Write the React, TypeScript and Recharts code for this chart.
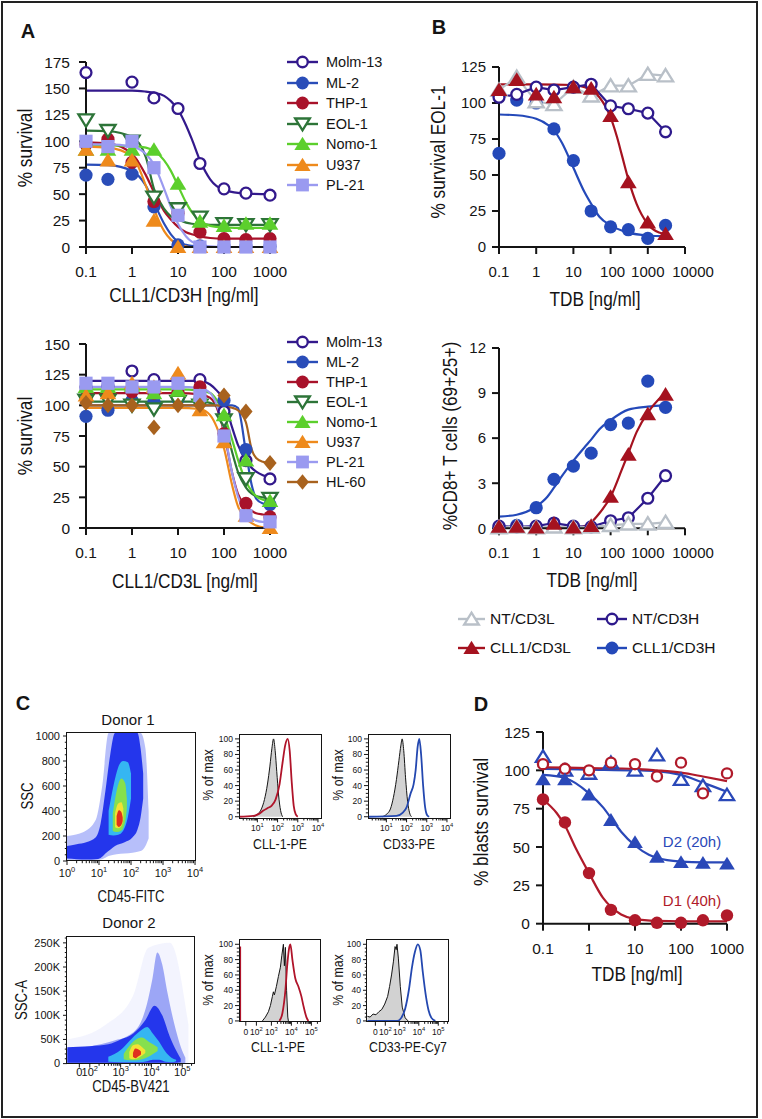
import React from 'react';
import { LineChart, ComposedChart, Line, Area, XAxis, YAxis } from 'recharts';

const SANS = "'Liberation Sans', Arial, Helvetica, sans-serif";
const INK = '#141414';

// ---------------- A (top): survival vs CLL1/CD3H ----------------
const doseA = [0.1, 0.3, 1, 3, 10, 30, 100, 300, 1000];
const molm13H = [165, null, 156, 141, 131, 79, 55, 51, 49];
const ml2H = [68, 64, 69, 38, 2, 1, 0.5, 0.5, 0.5];
const thp1H = [97, 102, 80, 43, 32, 14, 8, 7, 8];
const eol1H = [120, 110, 100, 47, 36, 28, 22, 21, 21];
const nomo1H = [92, 92, 92, 92, 60, 24, 20, 22, 22];
const u937H = [92, 82, 82, 25, 0, 0, 0, 0, 0];
const pl21H = [100, 95, 100, 75, 30, 0, 0, 0, 0];

const fitDoseH = [0.1, 0.3, 1, 2, 3, 5, 7, 10, 15, 20, 30, 50, 100, 300, 1000];
const molm13HFit = [148, 148, 148, 147, 146, 143, 138, 130, 115, 102, 82, 64, 54, 50.5, 50];
const ml2HFit = [78, 77.5, 72, 58, 42, 22, 12, 5, 2, 1, 0.3, 0, 0, 0, 0];
const thp1HFit = [99, 98, 88, 68, 52, 34, 26, 19, 14, 12, 10, 8.5, 8, 8, 8];
const eol1HFit = [110, 109.5, 104, 85, 55, 36, 29, 26, 23, 22, 21.5, 21, 21, 21, 21];
const nomo1HFit = [96, 96, 95.5, 94, 91, 82, 72, 58, 42, 33, 25, 20, 18.5, 18, 18];
const u937HFit = [95, 94, 86, 58, 36, 15, 7, 2.5, 0.5, 0, 0, 0, 0, 0, 0];
const pl21HFit = [97, 97, 95, 88, 78, 55, 38, 22, 10, 5, 2, 0.5, 0, 0, 0];

// ---------------- A (bottom): survival vs CLL1/CD3L ----------------
const molm13L = [115, 116, 128, 121, 121, 121, 95, 55, 40];
const ml2L = [91, 96, 104, 103, 105, 105, 104, 64, 19];
const thp1L = [106, 108, 111, 110, 111, 115, 77, 20, 9];
const eol1L = [104, 104, 100, 97, 103, 100, 88, 40, 24];
const nomo1L = [115, 115, 116, 110, 112, 108, 92, 55, 22];
const u937L = [108, 110, 118, 115, 126, 96, 70, 10, 0];
const pl21L = [118, 118, 115, 115, 118, 108, 75, 10, 5];
const hl60L = [102, 100, 100, 82, 100, 100, 108, 95, 53];

const fitDoseL = [0.1, 1, 10, 30, 50, 70, 100, 150, 200, 300, 400, 500, 700, 1000];
const molm13LFit = [120, 120, 120, 120, 117, 112, 104, 82, 68, 55, 49, 46, 43, 41];
const ml2LFit = [100, 100, 100, 100, 100, 100, 100, 100, 98, 62, 35, 24, 20, 19];
const thp1LFit = [110, 110, 110, 109, 106, 98, 78, 45, 28, 17, 14, 12, 11, 10];
const eol1LFit = [103, 103, 103, 103, 102, 99, 88, 62, 46, 33, 28, 26, 25, 24];
const nomo1LFit = [113, 113, 113, 112, 110, 104, 92, 72, 56, 38, 30, 26, 23, 22];
const u937LFit = [98, 98, 98, 97, 92, 82, 65, 35, 18, 8, 4, 2, 0.5, 0];
const pl21LFit = [115, 115, 115, 114, 110, 100, 80, 45, 26, 12, 8, 6, 5, 5];
const hl60LFit = [100, 100, 100, 100, 100, 100, 99, 98, 96, 86, 64, 57, 54, 53];

// ---------------- B: EOL-1 survival and CD8 activation ----------------
const doseB = [0.1, 0.3, 1, 3, 10, 30, 100, 300, 1000, 3000];
const ntLSurv = [109, 118, 101, 99, 111, 105, 112, 112, 120, 119];
const ntHSurv = [104, 106, 111, 109, 111, 113, 98, 96, 93, 80];
const cllLSurv = [109, 116, 106, 104, 111, 110, 91, 45, 17, 9];
const cllHSurv = [65, 102, 100, 82, 60, 25, 14, 12, 6, 15];
const fitDoseBH = [0.1, 0.3, 1, 2, 3, 5, 10, 20, 30, 50, 100, 300, 1000, 3000];
const cllHSurvFit = [92, 91.5, 89, 85, 81, 72, 55, 38, 30, 21, 15, 10, 8, 7.5];
const fitDoseBL = [0.1, 1, 10, 20, 30, 50, 100, 150, 200, 300, 500, 1000, 2000, 3000];
const cllLSurvFit = [113, 113, 112.5, 111, 109, 104, 90, 76, 64, 47, 30, 16, 10, 9];

const ntLAct = [0.05, 0.1, 0.05, 0.1, 0.05, 0.1, 0.2, 0.3, 0.3, 0.4];
const ntHAct = [0.15, 0.1, 0.15, 0.35, 0.15, 0.1, 0.5, 0.7, 2.0, 3.5];
const cllLAct = [0.1, 0.1, 0.05, 0.3, 0.05, 0.15, 2.1, 4.9, 7.6, 8.9];
const cllHAct = [0.1, 0.2, 1.37, 3.26, 4.14, 5.0, 6.9, 7.0, 9.8, 8.05];
const cllHActFit = [0.78, 0.9, 1.45, 2.1, 2.7, 3.5, 4.5, 5.4, 5.9, 6.6, 7.2, 7.9, 8.1, 8.2];
const fitDoseBLAct = [10, 20, 30, 50, 100, 200, 300, 500, 1000, 2000, 3000];
const cllLActFit = [0.0, 0.15, 0.4, 1.0, 2.1, 3.9, 5.0, 6.4, 7.7, 8.6, 9.0];

// ---------------- D: primary blasts ----------------
const doseD = [0.1, 0.3, 1, 3, 10, 30, 100, 300, 1000];
const d2Tdb = [94, 94, 84, 67.5, 53, 43.5, 40, 39.5, 39];
const d2Ctrl = [109, 100, 98, 105, 100, 110, 94, 90, 84];
const d1Tdb = [81, 66, 33, 9, 2.2, 0.6, 0.6, 2.2, 5.4];
const d1Ctrl = [104, 101, 100, 105, 104, 96, 105, 85, 98];
const fitDoseD2 = [0.1, 0.3, 1, 2, 3, 5, 10, 20, 30, 50, 100, 300, 1000];
const d2TdbFit = [97, 95, 85, 76, 69, 60, 51, 45, 43, 41.5, 40.5, 40, 40];
const fitDoseD1 = [0.1, 0.2, 0.3, 0.5, 1, 2, 3, 5, 10, 30, 100, 300, 1000];
const d1TdbFit = [81, 72, 64, 50, 33, 17, 11, 6, 3, 1.8, 1.5, 1.5, 1.5];
const fitDoseCtrl = [0.1, 1, 10, 30, 100, 300, 1000];
const d2CtrlFit = [101, 100.5, 100, 99.5, 97, 92, 86];
const d1CtrlFit = [102, 101.5, 101, 100, 98.5, 96, 93];

// ---------------- C: flow cytometry (x in log decades) ----------------
// density envelopes [x, low, high]
const d1Halo = [[0.0, 10, 200], [0.5, 5, 230], [0.9, 10, 330], [1.1, 15, 600], [1.3, 40, 1024], [2.3, 80, 1024], [2.45, 120, 900], [2.55, 180, 400]];
const d1Blue = [[0.0, 20, 120], [0.3, 15, 135], [0.6, 12, 150], [0.9, 15, 190], [1.05, 25, 300], [1.2, 60, 560], [1.35, 90, 850], [1.5, 120, 1024], [1.8, 150, 1024], [2.05, 190, 1024], [2.2, 250, 1024], [2.3, 350, 900], [2.38, 500, 700]];
const d1Cyan = [[1.3, 210, 400], [1.45, 205, 600], [1.6, 210, 750], [1.75, 240, 800], [1.9, 350, 790], [2.0, 500, 700]];
const d1Green = [[1.43, 240, 380], [1.55, 232, 560], [1.7, 245, 660], [1.82, 320, 620], [1.87, 420, 500]];
const d1Yellow = [[1.5, 270, 380], [1.6, 262, 460], [1.7, 280, 470], [1.76, 330, 420]];
const d1Red = [[1.55, 290, 360], [1.62, 273, 406], [1.7, 290, 390], [1.74, 320, 350]];

const d2Speckle = [[1.27, 0, 50000], [2.5, 0, 80000], [3.4, 0, 140000], [3.9, 0, 240000], [4.6, 0, 250000], [5.2, 0, 80000]];
const d2Plume = [[1.27, 0, 30000], [1.8, 0, 34000], [2.35, 0, 40000], [2.8, 0, 48000], [3.2, 0, 56000], [3.65, 0, 85000], [3.86, 0, 125000], [4.03, 0, 175000], [4.19, 0, 230000], [4.35, 0, 205000], [4.51, 0, 150000], [4.73, 0, 85000], [4.95, 0, 35000], [5.1, 2000, 12000]];
const d2Blue = [[1.27, 2000, 34000], [2.0, 2000, 36000], [2.6, 2000, 40000], [3.0, 2000, 50000], [3.4, 2000, 62000], [3.8, 2000, 90000], [4.1, 2000, 120000], [4.35, 2000, 100000], [4.6, 2000, 55000], [4.82, 2000, 25000], [4.95, 3000, 10000]];
const d2Cyan = [[2.6, 4000, 14000], [3.0, 3000, 28000], [3.3, 3000, 48000], [3.6, 3000, 66000], [3.86, 5000, 76000], [4.05, 8000, 62000], [4.25, 8000, 45000], [4.45, 4000, 25000], [4.65, 3000, 12000], [4.8, 5000, 8000]];
const d2Green = [[3.1, 9000, 20000], [3.3, 7000, 38000], [3.5, 7000, 50000], [3.7, 9000, 54000], [3.9, 14000, 46000], [4.05, 20000, 40000], [4.2, 26000, 34000]];
const d2Yellow = [[3.28, 11000, 24000], [3.4, 9000, 38000], [3.55, 11000, 40000], [3.7, 17000, 34000], [3.8, 22000, 28000]];
const d2Red = [[3.4, 14000, 22000], [3.48, 11000, 31000], [3.58, 15000, 29000], [3.66, 19000, 25000]];

// histograms [x, % of max]
const d1IsoCll = [[0.8, 0], [1.0, 3], [1.2, 10], [1.35, 22], [1.5, 42], [1.62, 65], [1.72, 88], [1.8, 100], [1.88, 85], [1.96, 58], [2.05, 28], [2.15, 8], [2.25, 0]];
const d1Cll1 = [[0.1, 0], [0.8, 1], [1.1, 4], [1.3, 8], [1.5, 11], [1.7, 14], [1.9, 22], [2.1, 42], [2.25, 70], [2.38, 92], [2.5, 100], [2.6, 85], [2.7, 45], [2.8, 14], [2.9, 3], [3.0, 0]];
const d1IsoCd33 = [[0.8, 0], [1.0, 3], [1.2, 10], [1.35, 25], [1.5, 48], [1.62, 72], [1.72, 92], [1.78, 100], [1.86, 85], [1.95, 50], [2.05, 20], [2.15, 5], [2.25, 0]];
const d1Cd33 = [[0.1, 0], [1.5, 1], [1.8, 5], [2.0, 12], [2.2, 30], [2.35, 42], [2.45, 60], [2.55, 90], [2.63, 100], [2.72, 80], [2.82, 40], [2.92, 12], [3.02, 2], [3.12, 0]];
const d2IsoCll = [[2.55, 0], [2.7, 5], [2.85, 12], [2.95, 20], [3.05, 32], [3.1, 38], [3.15, 34], [3.25, 45], [3.35, 58], [3.45, 70], [3.52, 85], [3.6, 100], [3.65, 72], [3.7, 96], [3.76, 40], [3.82, 5], [3.85, 0]];
const d2Cll1 = [[3.4, 0], [3.55, 10], [3.7, 40], [3.8, 75], [3.9, 97], [3.95, 100], [4.05, 80], [4.2, 55], [4.35, 45], [4.5, 32], [4.6, 20], [4.75, 5], [4.85, 0]];
const d2Cll1Edge = [[1.44, 0], [1.44, 97]];
const d2IsoCd33 = [[1.36, 6], [1.5, 5], [1.65, 9], [1.8, 8], [1.95, 12], [2.1, 15], [2.25, 22], [2.4, 32], [2.5, 45], [2.6, 60], [2.7, 78], [2.78, 97], [2.84, 93], [2.88, 100], [2.95, 82], [3.05, 45], [3.15, 18], [3.3, 4], [3.45, 0]];
const d2Cd33 = [[1.36, 0], [2.9, 0], [3.1, 4], [3.3, 16], [3.5, 42], [3.65, 70], [3.8, 90], [3.95, 100], [4.08, 92], [4.2, 65], [4.35, 35], [4.5, 14], [4.65, 4], [4.85, 0]];

// ---------------- styles ----------------
const cellStyle: Record<string, { color: string; shape: string }> = {
  'Molm-13': { color: '#33198c', shape: 'circleOpen' },
  'ML-2': { color: '#2a4db8', shape: 'circle' },
  'THP-1': { color: '#a8122a', shape: 'circle' },
  'EOL-1': { color: '#2d7438', shape: 'triDown' },
  'Nomo-1': { color: '#5ccf2c', shape: 'triUp' },
  U937: { color: '#ee8a1c', shape: 'triUp' },
  'PL-21': { color: '#9a9af0', shape: 'square' },
  'HL-60': { color: '#a8621e', shape: 'diamond' },
};
const tdbStyle: Record<string, { color: string; shape: string }> = {
  'NT/CD3L': { color: '#b9c0c8', shape: 'triUpOpen' },
  'NT/CD3H': { color: '#2e1a8c', shape: 'circleOpen' },
  'CLL1/CD3L': { color: '#a5121f', shape: 'triUp' },
  'CLL1/CD3H': { color: '#2449b9', shape: 'circle' },
};
const D_BLUE = '#2a48b8';
const D_RED = '#b01a2a';
const HEAT = ['#2436ec', '#35b6f2', '#86e04e', '#f2e234', '#e0301e'];

const toPts = (xs: number[], ys: (number | null)[]) =>
  xs.map((x, i) => ({ x, y: ys[i] })).filter((p) => p.y != null);
const pairs = (arr: number[][]) => arr.map(([x, y]) => ({ x, y }));
const ranges = (arr: number[][]) => arr.map(([x, lo, hi]) => ({ x, r: [lo, hi] }));

const LOG_STEPS = [2, 3, 4, 5, 6, 7, 8, 9].map((k) => Math.log10(k));
const minorDecades = (from: number, to: number, lo: number, hi: number) => {
  const out: number[] = [];
  for (let d = from; d < to; d++) LOG_STEPS.forEach((s) => out.push(d + s));
  return out.filter((v) => v > lo && v < hi);
};
const linTicks = (step: number, max: number) => {
  const out: number[] = [];
  for (let v = 0; v <= max; v += step) out.push(v);
  return out;
};

// ---------------- markers ----------------
function Marker({ shape, color, cx, cy, r = 6.6 }: any) {
  if (cx == null || cy == null) return null;
  const sw = 2.3;
  const h = r * 1.15;
  switch (shape) {
    case 'circle':
      return <circle cx={cx} cy={cy} r={r} fill={color} />;
    case 'circleOpen':
      return <circle cx={cx} cy={cy} r={r - sw / 2} fill="#fff" stroke={color} strokeWidth={sw} />;
    case 'square':
      return <rect x={cx - r} y={cy - r} width={2 * r} height={2 * r} fill={color} />;
    case 'diamond':
      return <polygon points={`${cx},${cy - r * 1.2} ${cx + r},${cy} ${cx},${cy + r * 1.2} ${cx - r},${cy}`} fill={color} />;
    case 'triUp':
      return <polygon points={`${cx},${cy - h} ${cx + h * 1.1},${cy + h * 0.8} ${cx - h * 1.1},${cy + h * 0.8}`} fill={color} />;
    case 'triUpOpen':
      return <polygon points={`${cx},${cy - h + 1} ${cx + h},${cy + h * 0.75} ${cx - h},${cy + h * 0.75}`} fill="#fff" stroke={color} strokeWidth={sw} />;
    case 'triDown':
      return <polygon points={`${cx - h},${cy - h * 0.75} ${cx + h},${cy - h * 0.75} ${cx},${cy + h - 1}`} fill="#fff" stroke={color} strokeWidth={sw} />;
    default:
      return null;
  }
}

// condensed look: Arial squeezed horizontally
function Label({ x, y, children, size = 21, rotate = false, squeeze = 0.82, weight = 400, color = INK }: any) {
  return (
    <div
      style={{
        position: 'absolute', left: x, top: y, whiteSpace: 'nowrap', lineHeight: 1,
        transform: `translate(-50%, -50%)${rotate ? ' rotate(-90deg)' : ''} scaleX(${squeeze})`,
        fontSize: size, fontFamily: SANS, fontWeight: weight, color,
      }}
    >
      {children}
    </div>
  );
}

function LegendItem({ x, y, name, color, shape, w = 31, gap = 8, size = 14.5 }: any) {
  return (
    <div style={{ position: 'absolute', left: x, top: y - 10, height: 20, display: 'flex', alignItems: 'center', whiteSpace: 'nowrap' }}>
      <svg width={w} height={20} style={{ overflow: 'visible' }}>
        <line x1={0} y1={10} x2={w} y2={10} stroke={color} strokeWidth={2.4} />
        <Marker shape={shape} color={color} cx={w / 2} cy={10} r={6.4} />
      </svg>
      <span style={{ marginLeft: gap, fontSize: size, fontFamily: SANS, color: INK }}>{name}</span>
    </div>
  );
}

// ---------------- dose-response chart ----------------
const labelNudge: Record<number, number> = { 100: 2, 10000: 8 };

function DoseChart({ box, xMax, xTicks, yMax, yTicks, yTickMargin = 9, fontSize = 15.5, fits, points, r = 6.6, nudge = false }: any) {
  const ML = 64, MT = 16, MR = 30, MB = 44;
  const axis = { stroke: INK, strokeWidth: 2 };
  const tick = { fill: INK, fontSize, fontFamily: SANS };
  const xTick = (p: any) => {
    const v = p.payload?.value;
    const dx = nudge ? labelNudge[v] ?? 0 : 0;
    return (
      <text key={`x-${v}`} x={p.x + dx} y={p.y} dy="0.71em" textAnchor="middle" fontSize={fontSize} fontFamily={SANS} fill={INK}>
        {String(v)}
      </text>
    );
  };
  return (
    <div style={{ position: 'absolute', left: box.x - ML, top: box.y - MT }}>
      <LineChart width={box.w + ML + MR} height={box.h + MT + MB} margin={{ top: MT, right: MR, bottom: 0, left: 0 }}>
        <XAxis type="number" dataKey="x" scale="log" domain={[0.1, xMax]} ticks={xTicks} interval={0}
          height={MB} tickSize={7} tickMargin={12} axisLine={axis} tickLine={axis} tick={xTick} />
        <YAxis type="number" domain={[0, yMax]} ticks={yTicks} interval={0} width={ML}
          tickSize={7} tickMargin={yTickMargin} axisLine={axis} tickLine={axis} tick={tick} />
        {fits.map((f: any) => (
          <Line key={`fit-${f.key}`} data={f.data} dataKey="y" type="monotone" stroke={f.color}
            strokeWidth={2.2} dot={false} activeDot={false} isAnimationActive={false} />
        ))}
        {points.map((s: any) => (
          <Line key={`pts-${s.key}`} data={s.data} dataKey="y" type="linear"
            stroke={s.connect ? s.color : 'none'} strokeWidth={2.2} activeDot={false} isAnimationActive={false}
            dot={(p: any) => <Marker key={`${s.key}-${p.index}`} shape={s.shape} color={s.color} cx={p.cx} cy={p.cy} r={r} />} />
        ))}
      </LineChart>
    </div>
  );
}

// ---------------- flow cytometry plots ----------------
function makeXTick(majors: any[], fs: number, dy: number) {
  return (p: any) => {
    const v = p.payload?.value;
    const m = majors.find((t) => Math.abs(t.v - v) < 1e-6);
    return (
      <g key={`xt-${v}`}>
        <line x1={p.x} x2={p.x} y1={p.y} y2={p.y + (m ? 4 : 2.2)} stroke={INK} strokeWidth={1} />
        {m && (
          <text x={p.x} y={p.y + dy} textAnchor="middle" fontSize={fs} fontFamily={SANS} fill={INK}>
            {m.base}
            {m.sup && <tspan dy={-fs * 0.45} fontSize={fs * 0.68}>{m.sup}</tspan>}
          </text>
        )}
      </g>
    );
  };
}
function makeYTick(majors: any[], fs: number, gap: number) {
  return (p: any) => {
    const v = p.payload?.value;
    const m = majors.find((t) => Math.abs(t.v - v) < 1e-6);
    return (
      <g key={`yt-${v}`}>
        <line x1={p.x - (m ? 4 : 2.2)} x2={p.x} y1={p.y} y2={p.y} stroke={INK} strokeWidth={1} />
        {m && (
          <text x={p.x - gap} y={p.y} dy="0.35em" textAnchor="end" fontSize={fs} fontFamily={SANS} fill={INK}>{m.label}</text>
        )}
      </g>
    );
  };
}

function FlowPlot({ box, xDomain, yDomain, xMajors, xMinors, yMajors, yMinors, xFs, xDy, yFs, yGap, children }: any) {
  const ML = 44, MT = 6, MR = 8, MB = 24;
  return (
    <>
      <div style={{ position: 'absolute', left: box.x - ML, top: box.y - MT }}>
        <ComposedChart width={box.w + ML + MR} height={box.h + MT + MB} margin={{ top: MT, right: MR, bottom: 0, left: 0 }}>
          <XAxis type="number" dataKey="x" domain={xDomain} allowDataOverflow interval={0}
            ticks={[...xMajors.map((t: any) => t.v), ...xMinors]} height={MB} tickSize={0} tickMargin={0}
            axisLine={false} tickLine={false} tick={makeXTick(xMajors, xFs, xDy)} />
          <YAxis type="number" domain={yDomain} allowDataOverflow interval={0}
            ticks={[...yMajors.map((t: any) => t.v), ...yMinors]} width={ML} tickSize={0} tickMargin={0}
            axisLine={false} tickLine={false} tick={makeYTick(yMajors, yFs, yGap)} />
          {children}
        </ComposedChart>
      </div>
      <div style={{ position: 'absolute', left: box.x - 0.7, top: box.y - 0.7, width: box.w + 1.4, height: box.h + 1.4, border: `1.4px solid ${INK}`, boxSizing: 'border-box' }} />
    </>
  );
}

const densityLayers = (layers: { data: number[][]; fill: string; opacity?: number }[]) =>
  layers.map((l, i) => (
    <Area key={`den-${i}`} data={ranges(l.data)} dataKey="r" type="monotone" stroke="none" fill={l.fill}
      fillOpacity={l.opacity ?? 1} dot={false} activeDot={false} isAnimationActive={false} />
  ));

const histLayers = (iso: number[][], stain: number[][], color: string, isoType = 'monotone', extra?: number[][]) => [
  <Area key="iso" data={pairs(iso)} dataKey="y" type={isoType as any} stroke={INK} strokeWidth={1} fill="#d2d2d2"
    fillOpacity={1} dot={false} activeDot={false} isAnimationActive={false} />,
  <Line key="stain" data={pairs(stain)} dataKey="y" type="monotone" stroke={color} strokeWidth={1.8}
    dot={false} activeDot={false} isAnimationActive={false} />,
  ...(extra
    ? [<Line key="edge" data={pairs(extra)} dataKey="y" type="linear" stroke={color} strokeWidth={1.8}
        dot={false} activeDot={false} isAnimationActive={false} />]
    : []),
];

const pctMajors = linTicks(20, 100).map((v) => ({ v, label: String(v) }));
const pctMinors = linTicks(5, 100).filter((v) => v % 20 !== 0);
const decade = (v: number, sup: string) => ({ v, base: '10', sup });

// ---------------- assemble series ----------------
const topFits = [
  ['Molm-13', molm13HFit], ['ML-2', ml2HFit], ['THP-1', thp1HFit], ['EOL-1', eol1HFit],
  ['Nomo-1', nomo1HFit], ['U937', u937HFit], ['PL-21', pl21HFit],
].map(([k, ys]: any) => ({ key: k, color: cellStyle[k].color, data: toPts(fitDoseH, ys) }));
const topPts = [
  ['Molm-13', molm13H], ['ML-2', ml2H], ['THP-1', thp1H], ['EOL-1', eol1H],
  ['Nomo-1', nomo1H], ['U937', u937H], ['PL-21', pl21H],
].map(([k, ys]: any) => ({ key: k, ...cellStyle[k], data: toPts(doseA, ys) }));

const botFits = [
  ['Molm-13', molm13LFit], ['ML-2', ml2LFit], ['THP-1', thp1LFit], ['EOL-1', eol1LFit],
  ['Nomo-1', nomo1LFit], ['U937', u937LFit], ['PL-21', pl21LFit], ['HL-60', hl60LFit],
].map(([k, ys]: any) => ({ key: k, color: cellStyle[k].color, data: toPts(fitDoseL, ys) }));
const botPts = [
  ['Molm-13', molm13L], ['ML-2', ml2L], ['THP-1', thp1L], ['EOL-1', eol1L],
  ['Nomo-1', nomo1L], ['U937', u937L], ['PL-21', pl21L], ['HL-60', hl60L],
].map(([k, ys]: any) => ({ key: k, ...cellStyle[k], data: toPts(doseA, ys) }));

const survFits = [
  { key: 'CLL1/CD3H', color: tdbStyle['CLL1/CD3H'].color, data: toPts(fitDoseBH, cllHSurvFit) },
  { key: 'CLL1/CD3L', color: tdbStyle['CLL1/CD3L'].color, data: toPts(fitDoseBL, cllLSurvFit) },
];
const survPts = [
  { key: 'CLL1/CD3H', ...tdbStyle['CLL1/CD3H'], data: toPts(doseB, cllHSurv) },
  { key: 'NT/CD3L', ...tdbStyle['NT/CD3L'], data: toPts(doseB, ntLSurv), connect: true },
  { key: 'NT/CD3H', ...tdbStyle['NT/CD3H'], data: toPts(doseB, ntHSurv), connect: true },
  { key: 'CLL1/CD3L', ...tdbStyle['CLL1/CD3L'], data: toPts(doseB, cllLSurv) },
];
const actFits = [
  { key: 'CLL1/CD3H', color: tdbStyle['CLL1/CD3H'].color, data: toPts(fitDoseBH, cllHActFit) },
  { key: 'CLL1/CD3L', color: tdbStyle['CLL1/CD3L'].color, data: toPts(fitDoseBLAct, cllLActFit) },
];
const actPts = [
  { key: 'CLL1/CD3H', ...tdbStyle['CLL1/CD3H'], data: toPts(doseB, cllHAct) },
  { key: 'NT/CD3H', ...tdbStyle['NT/CD3H'], data: toPts(doseB, ntHAct), connect: true },
  { key: 'NT/CD3L', ...tdbStyle['NT/CD3L'], data: toPts(doseB, ntLAct), connect: true },
  { key: 'CLL1/CD3L', ...tdbStyle['CLL1/CD3L'], data: toPts(doseB, cllLAct) },
];

const blastFits = [
  { key: 'd2c', color: D_BLUE, data: toPts(fitDoseCtrl, d2CtrlFit) },
  { key: 'd1c', color: D_RED, data: toPts(fitDoseCtrl, d1CtrlFit) },
  { key: 'd2', color: D_BLUE, data: toPts(fitDoseD2, d2TdbFit) },
  { key: 'd1', color: D_RED, data: toPts(fitDoseD1, d1TdbFit) },
];
const blastPts = [
  { key: 'd2c', color: D_BLUE, shape: 'triUpOpen', data: toPts(doseD, d2Ctrl) },
  { key: 'd1c', color: D_RED, shape: 'circleOpen', data: toPts(doseD, d1Ctrl) },
  { key: 'd2', color: D_BLUE, shape: 'triUp', data: toPts(doseD, d2Tdb) },
  { key: 'd1', color: D_RED, shape: 'circle', data: toPts(doseD, d1Tdb) },
];

export default function App() {
  const topNames = ['Molm-13', 'ML-2', 'THP-1', 'EOL-1', 'Nomo-1', 'U937', 'PL-21'];
  const botNames = [...topNames, 'HL-60'];
  return (
    <div style={{ position: 'absolute', left: 0, top: 0, width: 762, height: 1119, background: '#fff', overflow: 'hidden', fontFamily: SANS }}>
      <div style={{ position: 'absolute', left: 1, top: 1, width: 757, height: 1117, border: '2px solid #222', boxSizing: 'border-box' }} />

      {/* ---------- A ---------- */}
      <Label x={28} y={31} size={20} squeeze={1} weight={700}>A</Label>
      <DoseChart box={{ x: 86, y: 62, w: 184, h: 185 }} xMax={1000} xTicks={[0.1, 1, 10, 100, 1000]}
        yMax={175} yTicks={[0, 25, 50, 75, 100, 125, 150, 175]} fits={topFits} points={topPts} />
      <Label x={24} y={148} rotate>% survival</Label>
      <Label x={184} y={294}>CLL1/CD3H [ng/ml]</Label>
      {topNames.map((n, i) => (
        <LegendItem key={n} x={287} y={62 + i * 20.5} name={n} {...cellStyle[n]} />
      ))}

      <DoseChart box={{ x: 86, y: 344, w: 184, h: 184 }} xMax={1000} xTicks={[0.1, 1, 10, 100, 1000]}
        yMax={150} yTicks={[0, 25, 50, 75, 100, 125, 150]} fits={botFits} points={botPts} />
      <Label x={24} y={436} rotate>% survival</Label>
      <Label x={185} y={580}>CLL1/CD3L [ng/ml]</Label>
      {botNames.map((n, i) => (
        <LegendItem key={n} x={287} y={342 + i * 20} name={n} {...cellStyle[n]} />
      ))}

      {/* ---------- B ---------- */}
      <Label x={439} y={27} size={20} squeeze={1} weight={700}>B</Label>
      <DoseChart box={{ x: 499, y: 66.7, w: 186, h: 180 }} xMax={10000} xTicks={[0.1, 1, 10, 100, 1000, 10000]} nudge
        yMax={125} yTicks={[0, 25, 50, 75, 100, 125]} yTickMargin={6} fontSize={15} fits={survFits} points={survPts} />
      <Label x={437} y={152} rotate>% survival EOL-1</Label>
      <Label x={595} y={298}>TDB [ng/ml]</Label>

      <DoseChart box={{ x: 499, y: 348, w: 186, h: 180.3 }} xMax={10000} xTicks={[0.1, 1, 10, 100, 1000, 10000]} nudge
        yMax={12} yTicks={[0, 3, 6, 9, 12]} yTickMargin={6} fontSize={15} fits={actFits} points={actPts} />
      <Label x={449} y={436} rotate>%CD8+ T cells (69+25+)</Label>
      <Label x={592} y={579}>TDB [ng/ml]</Label>

      <LegendItem x={458} y={619} w={27} gap={5} size={15.5} name="NT/CD3L" {...tdbStyle['NT/CD3L']} />
      <LegendItem x={597} y={619} w={30} gap={5} size={15.5} name="NT/CD3H" {...tdbStyle['NT/CD3H']} />
      <LegendItem x={458} y={648} w={27} gap={5} size={15.5} name="CLL1/CD3L" {...tdbStyle['CLL1/CD3L']} />
      <LegendItem x={597} y={648} w={30} gap={5} size={15.5} name="CLL1/CD3H" {...tdbStyle['CLL1/CD3H']} />

      {/* ---------- C ---------- */}
      <Label x={23} y={703} size={20} squeeze={1} weight={700}>C</Label>
      <Label x={128} y={719} size={15} squeeze={1}>Donor 1</Label>
      <FlowPlot box={{ x: 66.7, y: 732.7, w: 129, h: 128 }} xDomain={[0, 4.03]} yDomain={[0, 1024]}
        xMajors={[decade(0, '0'), decade(1, '1'), decade(2, '2'), decade(3, '3'), decade(4, '4')]}
        xMinors={minorDecades(0, 4, 0, 4.03)}
        yMajors={linTicks(200, 1000).map((v) => ({ v, label: String(v) }))}
        yMinors={linTicks(50, 1000).filter((v) => v % 200 !== 0)}
        xFs={11} xDy={16} yFs={11} yGap={7}>
        {densityLayers([
          { data: d1Halo, fill: '#4a5ef2', opacity: 0.4 },
          { data: d1Blue, fill: HEAT[0] },
          { data: d1Cyan, fill: HEAT[1] },
          { data: d1Green, fill: HEAT[2] },
          { data: d1Yellow, fill: HEAT[3] },
          { data: d1Red, fill: HEAT[4] },
        ])}
      </FlowPlot>
      <Label x={28} y={796} size={16} rotate>SSC</Label>
      <Label x={131} y={897} size={16}>CD45-FITC</Label>

      <FlowPlot box={{ x: 239.3, y: 735, w: 82.4, h: 83.3 }} xDomain={[0.09, 4.17]} yDomain={[-2, 105]}
        xMajors={[decade(1, '1'), decade(2, '2'), decade(3, '3'), decade(4, '4')]}
        xMinors={minorDecades(0, 4, 0.09, 4.17)} yMajors={pctMajors} yMinors={pctMinors}
        xFs={8.5} xDy={13} yFs={8.5} yGap={6}>
        {histLayers(d1IsoCll, d1Cll1, '#b0142a')}
      </FlowPlot>
      <Label x={207} y={775} size={15} rotate>% of max</Label>
      <Label x={280} y={843} size={15}>CLL-1-PE</Label>

      <FlowPlot box={{ x: 368.3, y: 735, w: 82.4, h: 83.3 }} xDomain={[0.09, 4.17]} yDomain={[-2, 105]}
        xMajors={[decade(1, '1'), decade(2, '2'), decade(3, '3'), decade(4, '4')]}
        xMinors={minorDecades(0, 4, 0.09, 4.17)} yMajors={pctMajors} yMinors={pctMinors}
        xFs={8.5} xDy={13} yFs={8.5} yGap={6}>
        {histLayers(d1IsoCd33, d1Cd33, '#2448b0')}
      </FlowPlot>
      <Label x={337} y={775} size={15} rotate>% of max</Label>
      <Label x={409} y={843} size={15}>CD33-PE</Label>

      <Label x={129} y={922} size={15} squeeze={1}>Donor 2</Label>
      <FlowPlot box={{ x: 66.7, y: 936.7, w: 127.3, h: 126.6 }} xDomain={[1.26, 5.39]} yDomain={[0, 262144]}
        xMajors={[{ v: 1.66, base: '0' }, decade(2, '2'), decade(3, '3'), decade(4, '4'), decade(5, '5')]}
        xMinors={minorDecades(2, 6, 1.26, 5.39)}
        yMajors={linTicks(50000, 250000).map((v) => ({ v, label: v === 0 ? '0' : `${v / 1000}K` }))}
        yMinors={linTicks(10000, 260000).filter((v) => v % 50000 !== 0)}
        xFs={11} xDy={12} yFs={11} yGap={7}>
        {densityLayers([
          { data: d2Speckle, fill: '#9aa6f4', opacity: 0.12 },
          { data: d2Plume, fill: '#3348ee', opacity: 0.45 },
          { data: d2Blue, fill: HEAT[0] },
          { data: d2Cyan, fill: HEAT[1] },
          { data: d2Green, fill: HEAT[2] },
          { data: d2Yellow, fill: HEAT[3] },
          { data: d2Red, fill: HEAT[4] },
        ])}
      </FlowPlot>
      <Label x={22} y={1000} size={16} rotate>SSC-A</Label>
      <Label x={131} y={1087} size={16}>CD45-BV421</Label>

      <FlowPlot box={{ x: 239.3, y: 940, w: 80.7, h: 81.7 }} xDomain={[1.38, 5.415]} yDomain={[-1, 105.6]}
        xMajors={[{ v: 1.72, base: '0' }, decade(2.25, '2'), decade(3, '3'), decade(4, '4'), decade(5, '5')]}
        xMinors={minorDecades(3, 6, 1.38, 5.415)} yMajors={pctMajors} yMinors={pctMinors}
        xFs={8.5} xDy={13} yFs={8.5} yGap={6}>
        {histLayers(d2IsoCll, d2Cll1, '#b0142a', 'linear', d2Cll1Edge)}
      </FlowPlot>
      <Label x={207} y={980} size={15} rotate>% of max</Label>
      <Label x={278} y={1046} size={15}>CLL-1-PE</Label>

      <FlowPlot box={{ x: 366.7, y: 940, w: 81.6, h: 81.7 }} xDomain={[1.34, 5.53]} yDomain={[-1, 105.6]}
        xMajors={[{ v: 1.77, base: '0' }, decade(2.28, '2'), decade(3, '3'), decade(4, '4'), decade(5, '5')]}
        xMinors={minorDecades(3, 6, 1.34, 5.53)} yMajors={pctMajors} yMinors={pctMinors}
        xFs={8.5} xDy={13} yFs={8.5} yGap={6}>
        {histLayers(d2IsoCd33, d2Cd33, '#2448b0', 'linear')}
      </FlowPlot>
      <Label x={337} y={980} size={15} rotate>% of max</Label>
      <Label x={408} y={1046} size={15}>CD33-PE-Cy7</Label>

      {/* ---------- D ---------- */}
      <Label x={481} y={704} size={20} squeeze={1} weight={700}>D</Label>
      <DoseChart box={{ x: 542.7, y: 731.6, w: 184, h: 191.7 }} xMax={1000} xTicks={[0.1, 1, 10, 100, 1000]}
        yMax={125} yTicks={[0, 25, 50, 75, 100, 125]} yTickMargin={6} fits={blastFits} points={blastPts} r={6.2} />
      <Label x={480} y={822} rotate>% blasts survival</Label>
      <Label x={637} y={973}>TDB [ng/ml]</Label>
      <Label x={692} y={841} size={15} squeeze={1} color={D_BLUE}>D2 (20h)</Label>
      <Label x={692} y={900} size={15} squeeze={1} color={D_RED}>D1 (40h)</Label>
    </div>
  );
}
